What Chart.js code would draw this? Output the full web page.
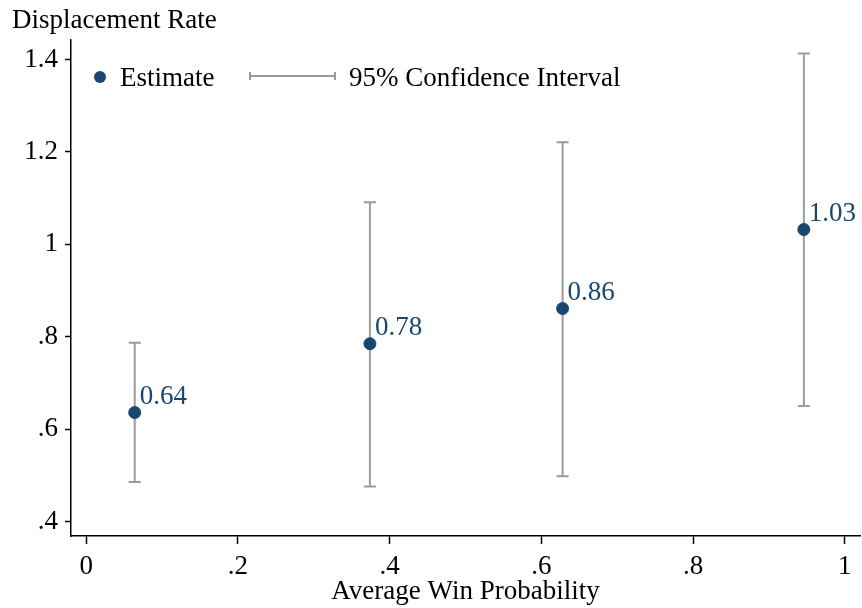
<!DOCTYPE html>
<html>
<head>
<meta charset="utf-8">
<script src="https://cdn.jsdelivr.net/npm/chart.js@4"></script>
<style>
  body { margin: 0; background: #fff; }
  canvas { display: block; }
</style>
</head>
<body>
<canvas id="chart" width="862" height="608"></canvas>
<script>
const winProb = [0.064, 0.374, 0.628, 0.946];
const estimate = [0.636, 0.785, 0.861, 1.032];
const ciLow = [0.486, 0.476, 0.498, 0.650];
const ciHigh = [0.787, 1.091, 1.221, 1.413];
const pointLabels = ['0.64', '0.78', '0.86', '1.03'];
const xTicks = [0, 0.2, 0.4, 0.6, 0.8, 1];
const yTicks = [0.4, 0.6, 0.8, 1, 1.2, 1.4];

const navy = '#1a476f';
const ciGray = '#9b9b9b';
const font = '"Liberation Serif", "Times New Roman", serif';
const fsize = 27;

const fmt = v => v === 0 ? '0' : String(v).replace(/^0\./, '.');

// error bars, value labels, legend and y title
const extras = {
    id: 'extras',
    beforeDatasetsDraw(chart) {
        const c = chart.ctx, xs = chart.scales.x, ys = chart.scales.y;
        c.save();
        c.strokeStyle = ciGray;
        c.lineWidth = 2;
        winProb.forEach((x, i) => {
            const px = xs.getPixelForValue(x);
            const lo = ys.getPixelForValue(ciLow[i]);
            const hi = ys.getPixelForValue(ciHigh[i]);
            c.beginPath();
            c.moveTo(px, lo); c.lineTo(px, hi);
            c.moveTo(px - 6, lo); c.lineTo(px + 6, lo);
            c.moveTo(px - 6, hi); c.lineTo(px + 6, hi);
            c.stroke();
        });
        c.restore();
    },
    afterDatasetsDraw(chart) {
        const c = chart.ctx, xs = chart.scales.x, ys = chart.scales.y;
        c.save();
        c.font = fsize + 'px ' + font;
        c.fillStyle = navy;
        c.textAlign = 'left';
        c.textBaseline = 'alphabetic';
        winProb.forEach((x, i) => {
            c.fillText(pointLabels[i], xs.getPixelForValue(x) + 5, ys.getPixelForValue(estimate[i]) - 9);
        });

        // legend
        c.fillStyle = navy;
        c.beginPath();
        c.arc(100, 77, 6, 0, Math.PI * 2);
        c.fill();
        c.fillStyle = '#000';
        c.textBaseline = 'middle';
        c.fillText('Estimate', 120, 79);
        c.strokeStyle = ciGray;
        c.lineWidth = 2;
        c.beginPath();
        c.moveTo(250, 76); c.lineTo(335, 76);
        c.moveTo(250, 72); c.lineTo(250, 80);
        c.moveTo(335, 72); c.lineTo(335, 80);
        c.stroke();
        c.fillText('95% Confidence Interval', 349, 79);

        // y axis title
        c.textBaseline = 'alphabetic';
        c.fillText('Displacement Rate', 12, 28);
        c.restore();
    }
};

new Chart(document.getElementById('chart'), {
    type: 'scatter',
    data: {
        datasets: [{
            label: 'Estimate',
            data: winProb.map((x, i) => ({ x: x, y: estimate[i] })),
            backgroundColor: navy,
            borderColor: navy,
            pointRadius: 6,
            pointHoverRadius: 6
        }]
    },
    options: {
        responsive: false,
        animation: false,
        layout: { autoPadding: false, padding: { top: 40, right: 2, left: 0, bottom: 0 } },
        plugins: {
            legend: { display: false },
            tooltip: { enabled: false }
        },
        scales: {
            x: {
                type: 'linear',
                min: -0.02,
                max: 1.02,
                afterBuildTicks: axis => { axis.ticks = xTicks.map(v => ({ value: v })); },
                afterFit: axis => { axis.height = 72; axis.paddingLeft = 0; axis.paddingRight = 0; },
                grid: { drawOnChartArea: false, drawTicks: true, tickLength: 8, tickColor: '#000', tickWidth: 1.5 },
                border: { display: true, color: '#000', width: 1.5 },
                ticks: {
                    color: '#000',
                    font: { family: font, size: fsize },
                    padding: 7,
                    maxRotation: 0,
                    callback: v => fmt(v)
                },
                title: {
                    display: true,
                    text: 'Average Win Probability',
                    color: '#000',
                    font: { family: font, size: fsize },
                    padding: { top: 0, bottom: 0 }
                }
            },
            y: {
                type: 'linear',
                min: 0.369,
                max: 1.442,
                afterBuildTicks: axis => { axis.ticks = yTicks.map(v => ({ value: v })); },
                afterFit: axis => { axis.width = 71; axis.paddingTop = 0; axis.paddingBottom = 0; },
                grid: { drawOnChartArea: false, drawTicks: true, tickLength: 6, tickColor: '#000', tickWidth: 1.5 },
                border: { display: true, color: '#000', width: 1.5 },
                ticks: {
                    color: '#000',
                    font: { family: font, size: fsize },
                    padding: 7,
                    callback: v => fmt(v)
                }
            }
        }
    },
    plugins: [extras]
});
</script>
</body>
</html>
